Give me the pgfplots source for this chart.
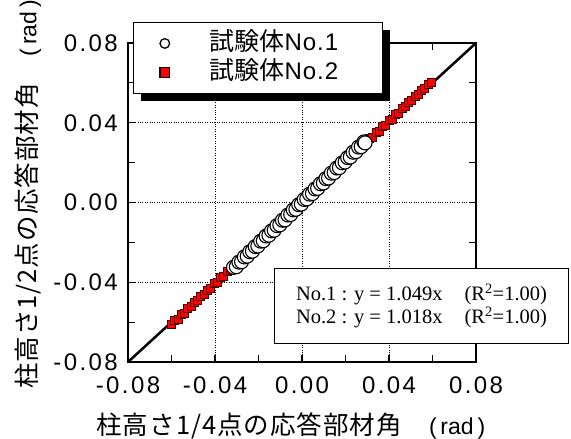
\documentclass[border=0pt]{standalone}
\usepackage{pgfplots}
\pgfplotsset{compat=1.18}
\usepackage{fontspec}
\usetikzlibrary{shadows}
\setmainfont{Liberation Sans}
\newfontfamily\jp{Noto Sans CJK JP}
\newfontfamily\jpl[LetterSpace=4]{Noto Sans CJK JP}
\newfontfamily\tickfont[LetterSpace=10]{Liberation Sans}
\newfontfamily\legfont[LetterSpace=4]{Liberation Sans}
\newfontfamily\serif{Liberation Serif}

\pgfplotstableread{
x y
-0.0315 -0.0325
-0.0302 -0.0322
-0.0290 -0.0299
-0.0278 -0.0297
-0.0265 -0.0273
-0.0252 -0.0269
-0.0240 -0.0247
-0.0228 -0.0244
-0.0215 -0.0221
-0.0203 -0.0218
-0.0190 -0.0194
-0.0178 -0.0192
-0.0165 -0.0168
-0.0152 -0.0164
-0.0140 -0.0142
-0.0128 -0.0139
-0.0115 -0.0116
-0.0102 -0.0112
-0.0090 -0.0089
-0.0078 -0.0087
-0.0065 -0.0063
-0.0052 -0.0060
-0.0040 -0.0037
-0.0028 -0.0034
-0.0015 -0.0011
-0.0003 -0.0008
0.0010 0.0015
0.0022 0.0018
0.0035 0.0042
0.0048 0.0045
0.0060 0.0068
0.0072 0.0071
0.0085 0.0094
0.0098 0.0098
0.0110 0.0120
0.0122 0.0123
0.0135 0.0147
0.0148 0.0150
0.0160 0.0173
0.0172 0.0175
0.0185 0.0199
0.0198 0.0203
0.0210 0.0225
0.0222 0.0228
0.0235 0.0252
0.0248 0.0255
0.0260 0.0278
0.0272 0.0280
0.0285 0.0304
0.0290 0.0299
}\dataA

\pgfplotstableread{
x y
-0.0600 -0.0611
-0.0585 -0.0591
-0.0570 -0.0584
-0.0555 -0.0561
-0.0540 -0.0554
-0.0525 -0.0530
-0.0510 -0.0523
-0.0495 -0.0500
-0.0480 -0.0493
-0.0465 -0.0469
-0.0450 -0.0462
-0.0435 -0.0439
-0.0420 -0.0431
-0.0405 -0.0408
-0.0390 -0.0401
-0.0375 -0.0378
-0.0360 -0.0370
-0.0345 -0.0347
-0.0330 -0.0340
-0.0315 -0.0317
-0.0250 -0.0255
-0.0180 -0.0183
-0.0100 -0.0102
-0.0030 -0.0031
0.0040 0.0041
0.0110 0.0112
0.0180 0.0183
0.0250 0.0255
0.0310 0.0320
0.0325 0.0327
0.0340 0.0350
0.0355 0.0357
0.0370 0.0381
0.0385 0.0388
0.0400 0.0411
0.0415 0.0419
0.0430 0.0442
0.0445 0.0449
0.0460 0.0472
0.0475 0.0480
0.0490 0.0503
0.0505 0.0510
0.0520 0.0533
0.0535 0.0541
0.0550 0.0564
0.0565 0.0571
0.0580 0.0594
0.0595 0.0602
}\dataB

\begin{document}
\begin{tikzpicture}
\begin{axis}[
  scale only axis,
  width=348pt, height=319pt,
  xmin=-0.08, xmax=0.08, ymin=-0.08, ymax=0.08,
  clip=false,
  scaled ticks=false,
  xtick={-0.08,-0.04,0,0.04,0.08},
  ytick={-0.08,-0.04,0,0.04,0.08},
  xticklabels={-0.08,-0.04,0.00,0.04,0.08},
  yticklabels={-0.08,-0.04,0.00,0.04,0.08},
  minor tick num=1,
  tick align=inside,
  tick pos=both,
  major tick length=7pt,
  minor tick length=7pt,
  every tick/.style={black, line width=1.2pt},
  axis line style={line width=1.6pt},
  grid=major,
  major grid style={dotted, black, line width=0.8pt},
  tick label style={font=\tickfont\fontsize{24}{24}\selectfont},
  yticklabel style={inner sep=0pt, anchor=east, xshift=-10pt},
  xticklabel style={inner sep=0pt, anchor=north, yshift=-15pt},
  xlabel={\jpl\fontsize{25.5}{25.5}\selectfont 柱高さ1/4点の応答部材角\hspace{27pt}{\fontsize{23}{23}\rmfamily(\,rad\,)}},
  ylabel={\jpl\fontsize{25.5}{25.5}\selectfont 柱高さ1/2点の応答部材角\hspace{27pt}{\fontsize{23}{23}\rmfamily(\,rad\,)}},
  xlabel style={at={(axis description cs:0.468,-0.200)}, anchor=center},
  ylabel style={at={(axis description cs:-0.288,0.525)}, anchor=center},
  legend style={
    at={(axis description cs:0.0144,1.066)}, anchor=north west,
    draw=black, line width=1pt, fill=white,
    inner xsep=26.5pt, inner ysep=9.5pt,
    row sep=6pt, column sep=40pt,
    nodes={inner sep=0pt, text height=19pt, text depth=4pt},
    font=\fontsize{24}{24}\selectfont,
    drop shadow={shadow xshift=7pt, shadow yshift=-8pt, opacity=1, fill=black},
  },
  legend cell align=left,
]
\addlegendimage{only marks, mark=*, mark size=4.8pt, line width=1.3pt, mark options={fill=white, draw=black}}
\addlegendentry{{\jp\fontsize{25}{25}\selectfont 試験体}{\legfont No.1}\hspace*{18pt}}
\addlegendimage{only marks, mark=square*, mark size=4.8pt, line width=1.3pt, mark options={fill=red, draw=black}}
\addlegendentry{{\jp\fontsize{25}{25}\selectfont 試験体}{\legfont No.2}\hspace*{18pt}}

\addplot[forget plot, black, line width=2.5pt] coordinates {(-0.08,-0.08) (0.08,0.08)};
\addplot[forget plot, only marks, mark=square*, mark size=4pt, mark options={fill=red, draw=black!70!red, line width=0.8pt}] table[x=x,y=y] {\dataB};
\addplot[forget plot, only marks, mark=*, mark size=7pt, mark options={fill=white, draw=black, line width=1.1pt}] table[x=x,y=y] {\dataA};

\node[draw=black, line width=1pt, fill=white, anchor=south west,
  minimum width=294pt, minimum height=75pt, inner xsep=19pt, align=left,
  font=\serif\fontsize{20.5}{23}\selectfont]
  at (axis description cs:0.4195,0.0564)
  {No.1 : y = 1.049x\hspace{22pt}(R\textsuperscript{2}=1.00)\\
   No.2 : y = 1.018x\hspace{22pt}(R\textsuperscript{2}=1.00)};
\end{axis}
\pgfresetboundingbox
\useasboundingbox (-128pt,-77pt) rectangle (443pt,362pt);
\end{tikzpicture}
\end{document}
